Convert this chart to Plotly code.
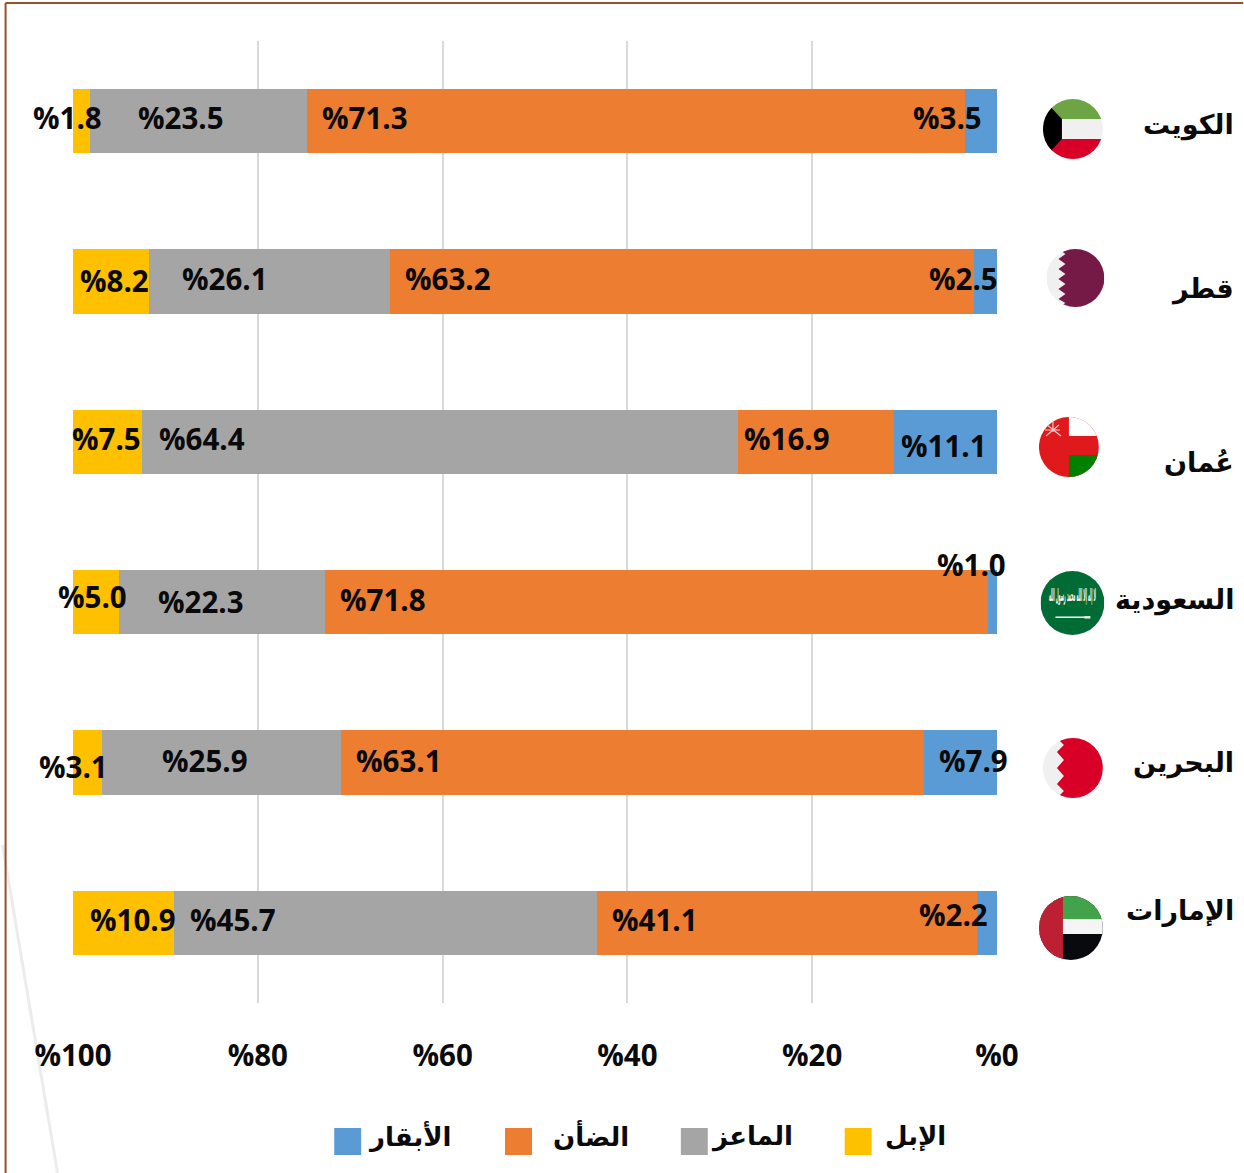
import base64
import plotly.graph_objects as go

# ---------- data ----------
countries = ["الكويت", "قطر", "عُمان", "السعودية", "البحرين", "الإمارات"]
series_names = ["الأبقار", "الضأن", "الماعز", "الإبل"]
cows = [3.5, 2.5, 11.1, 1.0, 7.9, 2.2]
sheep = [71.3, 63.2, 16.9, 71.8, 63.1, 41.1]
goats = [23.5, 26.1, 64.4, 22.3, 25.9, 45.7]
camels = [1.8, 8.2, 7.5, 5.0, 3.1, 10.9]
x_ticks = [0, 20, 40, 60, 80, 100]
x_tick_labels = ["%0", "%20", "%40", "%60", "%80", "%100"]

# ---------- styling ----------
W, H = 1244, 1173
L, R, T, B = 71.5, 998.5, 41, 1003
AXIS_PAD = 0.108  # keeps the gridlines at 0 and 100 visible
colors = ["#5B9BD5", "#ED7D31", "#A5A5A5", "#FFC000"]
NUM_FONT = "Open Sans"
AR_FONT = "DejaVu Sans"
INK = "#0a0a0a"

# per-label pixel nudges (one row per country: cows, sheep, goats, camels)
label_dx = [
    [-33, -270, -16, -13],
    [-22, -234, -44, 4],
    [-2, -29, -239, -2],
    [-21, -273, -20, -3],
    [13, -233, -16, -14],
    [-33, -132, -153, 9],
]
label_dy = [
    [4, 4, 4, 4],
    [3, 3, 3, 1],
    [-4, 3, 3, 3],
    [38, 3, 1, 6],
    [2, 2, 2, -4],
    [8, 3, 3, 3],
]
# country label: vertical nudge from the bar centre
name_dy = [-4, -7, -21, 2, 0, 12]


def px(p):
    return (p - L) / (R - L)


def py(p):
    return (B - p) / (B - T)


fig = go.Figure()
all_series = [cows, sheep, goats, camels]
for name, vals, col in zip(series_names, all_series, colors):
    fig.add_trace(go.Bar(y=countries, x=vals, name=name, orientation="h",
                         marker=dict(color=col, line=dict(width=0)),
                         showlegend=False, hoverinfo="x+name"))

annotations = []
for i, c in enumerate(countries):
    base = 0.0
    for j, vals in enumerate(all_series):
        v = vals[i]
        annotations.append(dict(
            x=base + v / 2, y=c, xref="x", yref="y", text=f"%{v:.1f}",
            showarrow=False, xshift=label_dx[i][j], yshift=label_dy[i][j],
            font=dict(family=NUM_FONT, size=29.5, color=INK, weight=700)))
        base += v
    annotations.append(dict(
        x=px(1237), y=c, xref="paper", yref="y", text=f"<b>{c}</b>",
        xanchor="right", showarrow=False, yshift=name_dy[i],
        font=dict(family=AR_FONT, size=27, color=INK)))

shapes = [
    dict(type="line", xref="paper", yref="paper", x0=px(2), x1=px(57), y0=py(845), y1=py(H),
         line=dict(color="#ececec", width=3), layer="below"),
    dict(type="line", xref="paper", yref="paper", x0=px(5), x1=px(5), y0=py(3), y1=py(H),
         line=dict(color="#96512A", width=2)),
    dict(type="line", xref="paper", yref="paper", x0=px(5), x1=px(W), y0=py(3), y1=py(3),
         line=dict(color="#96512A", width=2)),
]

# legend built by hand to keep the large square swatches
swatch_left = [334, 505, 681, 845]
legend_text_right = [453, 631, 795, 948]
for name, col, s, t in zip(series_names, colors, swatch_left, legend_text_right):
    shapes.append(dict(type="rect", xref="paper", yref="paper", x0=px(s), x1=px(s + 27),
                       y0=py(1128), y1=py(1155), fillcolor=col, line=dict(width=0)))
    annotations.append(dict(x=px(t), y=py(1136), xref="paper", yref="paper",
                            text=f"<b>{name}</b>", xanchor="right", yanchor="middle",
                            showarrow=False, font=dict(family=AR_FONT, size=26, color=INK)))


# ---------- round flags ----------
def flag(r, body):
    d = 2 * r
    svg = (f'<svg xmlns="http://www.w3.org/2000/svg" width="{d*2}" height="{d*2}" viewBox="0 0 {d} {d}">'
           f'<defs><clipPath id="c"><circle cx="{r}" cy="{r}" r="{r}"/></clipPath></defs>'
           f'<g clip-path="url(#c)">{body}</g></svg>')
    return "data:image/svg+xml;base64," + base64.b64encode(svg.encode("utf-8")).decode()


kuwait = ('<rect width="60" height="20" fill="#6DA544"/>'
          '<rect y="20" width="60" height="20" fill="#F0F0F0"/>'
          '<rect y="40" width="60" height="20" fill="#D80027"/>'
          '<polygon points="0,0 19,20 19,40 0,60" fill="#000"/>')
qatar = ('<rect width="58" height="58" fill="#F0F0F0"/>'
         '<polygon points="58,0 12,0 19,5 12,10 19,15 12,20 19,25 12,30 19,35 12,40 19,45 12,50 19,54 12,58 58,58" fill="#751A46"/>')
oman = ('<rect width="60" height="60" fill="#E0191C"/>'
        '<rect x="30" width="30" height="19" fill="#FFF"/>'
        '<rect x="30" y="38" width="30" height="22" fill="#008000"/>'
        '<g stroke="#F5C8C8" stroke-width="1.2"><path d="M7 7L22 19M7 19L20 8M14 4V15M6 13H21"/></g>')
saudi = ('<rect width="64" height="64" fill="#006B35"/>'
         '<text x="32" y="30" text-anchor="middle" fill="#FFF" font-size="17" font-family="DejaVu Sans" '
         'font-weight="bold" textLength="47" lengthAdjust="spacingAndGlyphs">لا إله إلا الله محمد رسول الله</text>'
         '<rect x="15" y="45.5" width="30" height="1.4" fill="#FFF"/><rect x="44" y="45" width="6" height="2.6" fill="#D8E8DC"/>')
bahrain = ('<rect width="60" height="60" fill="#F0F0F0"/>'
           '<polygon points="60,0 14,0 21,7 14,14 21,22 14,30 21,38 14,46 21,53 14,60 60,60" fill="#D80027"/>')
uae = ('<rect width="64" height="64" fill="#090A0D"/>'
       '<rect width="64" height="23" fill="#43A34A"/>'
       '<rect y="23" width="64" height="15" fill="#F5F5F5"/>'
       '<rect width="24" height="64" fill="#BE2033"/>')

flags = [(1073.5, 129, 30, kuwait), (1076, 278, 29, qatar), (1069.5, 447, 30, oman),
         (1073, 603, 32, saudi), (1073.5, 768, 30, bahrain), (1071.5, 928, 32, uae)]
images = [dict(source=flag(r, b), xref="paper", yref="paper", x=px(cx), y=py(cy),
               sizex=2 * r / (R - L), sizey=2 * r / (B - T), xanchor="center",
               yanchor="middle", sizing="stretch", layer="above")
          for cx, cy, r, b in flags]

fig.update_layout(
    width=W, height=H, autosize=False,
    margin=dict(l=L, r=W - R, t=T, b=H - B, pad=0),
    paper_bgcolor="white", plot_bgcolor="white",
    barmode="stack", barnorm="percent", bargap=0.6, showlegend=False,
    annotations=annotations, shapes=shapes, images=images,
    xaxis=dict(range=[100 + AXIS_PAD, -AXIS_PAD], tickmode="array", tickvals=x_ticks, ticktext=x_tick_labels,
               showgrid=True, gridcolor="#d9d9d9", gridwidth=2, zeroline=False, showline=False,
               ticks="", ticklabelstandoff=32,
               tickfont=dict(family=NUM_FONT, size=29.5, color=INK, weight=700)),
    yaxis=dict(categoryorder="array", categoryarray=countries, range=[5.5, -0.5],
               showticklabels=False, showgrid=False, zeroline=False, ticks=""),
)

fig.write_html("out.html", config=dict(displayModeBar=False),
               post_script="document.body.style.margin='0';document.body.style.background='white';")
